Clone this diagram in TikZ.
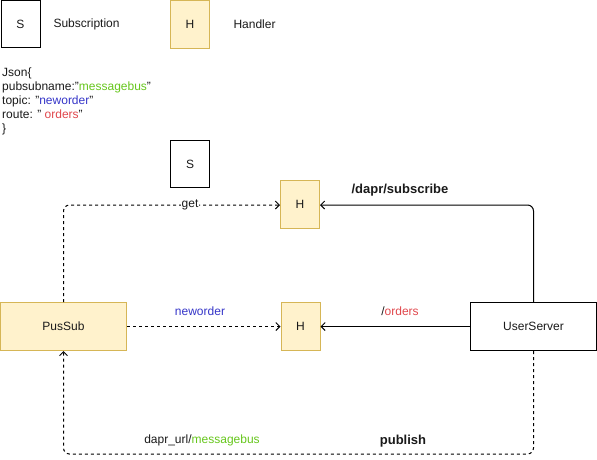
\documentclass[tikz,border=0pt]{standalone}
\usepackage{fontspec}
\setmainfont{Liberation Sans}
\usetikzlibrary{arrows.meta}
\definecolor{hfill}{HTML}{FFF2CC}
\definecolor{hdraw}{HTML}{D6B656}
\definecolor{mgreen}{HTML}{66C61C}
\definecolor{mblue}{HTML}{3535C8}
\definecolor{mred}{HTML}{E0474C}
\definecolor{txt}{HTML}{1A1A1A}
\tikzset{
  base/.style={font=\fontsize{12}{14}\selectfont, text=txt},
  sbox/.style={base, draw=black, line width=1pt, fill=white, minimum width=39pt, minimum height=47pt, inner sep=0pt},
  hbox/.style={base, draw=hdraw, line width=1pt, fill=hfill, minimum width=39pt, minimum height=48pt, inner sep=0pt},
  bigbox/.style={base, minimum width=126pt, minimum height=48pt, inner sep=0pt, line width=1pt},
  lbl/.style={base, inner sep=1pt},
  blbl/.style={base, font=\fontsize{13}{15}\selectfont\bfseries, inner sep=1pt},
  conn/.style={line width=1pt, -{Straight Barb[length=4pt,width=8pt,line width=1pt]}, rounded corners=6pt},
  dconn/.style={conn, dash pattern=on 3pt off 3pt},
  jline/.style={base, anchor=base west, inner sep=0pt}
}
\begin{document}
\begin{tikzpicture}[x=1pt,y=-1pt]
\useasboundingbox (0,0) rectangle (597,459);
% legend
\node[sbox] (sleg) at (20.5,24) {S};
\node[base, anchor=west] (stxt) at (50,24) {Subscription};
\node[hbox] (hleg) at (190,24) {H};
\node[base, anchor=west] (htxt) at (230,24) {Handler};
% json
\node[jline] (j1) at (2,76.5) {Json\{};
\node[jline] (j2) at (2,90.5) {pubsubname:"\textcolor{mgreen}{messagebus}"};
\node[jline] (j3) at (2,104.5) {topic: "\textcolor{mblue}{neworder}"};
\node[jline] (j4) at (2,118.5) {route: " \textcolor{mred}{orders}"};
\node[jline] (j5) at (2,132.5) {\}};
% main
\node[sbox] (s2) at (190,164) {S};
\node[hbox] (h1) at (300,204.5) {H};
\node[hbox] (h2) at (300.5,326.5) {H};
\node[bigbox, draw=hdraw, fill=hfill] (pus) at (63.5,326.5) {PusSub};
\node[bigbox, draw=black, fill=white] (user) at (533.5,326.5) {UserServer};
\coordinate (gc) at (63.5,205);
\coordinate (sc) at (533.5,205);
\coordinate (pr) at (533.5,454);
\coordinate (pl) at (63.5,454);
% connectors
\draw[dconn] (pus.north) -- (gc) -- (h1.west |- gc);
\node[lbl, fill=white] (getl) at (190,205) {get};
\draw[dconn] (pus.east) -- (h2.west);
\node[lbl, text=mblue] (nwl) at (200,311) {neworder};
\draw[conn] (user.west) -- (h2.east);
\node[lbl] (orl) at (400,311) {/\textcolor{mred}{orders}};
\draw[conn] (user.north) -- (sc) -- (h1.east |- sc);
\node[blbl] (dsl) at (400,190) {/dapr/subscribe};
\draw[dconn] (user.south) -- (pr) -- (pl) -- (pus.south);
\node[lbl] (dul) at (202,440) {dapr\_url/\textcolor{mgreen}{messagebus}};
\node[blbl] (pbl) at (403,441) {publish};
\end{tikzpicture}
\end{document}
